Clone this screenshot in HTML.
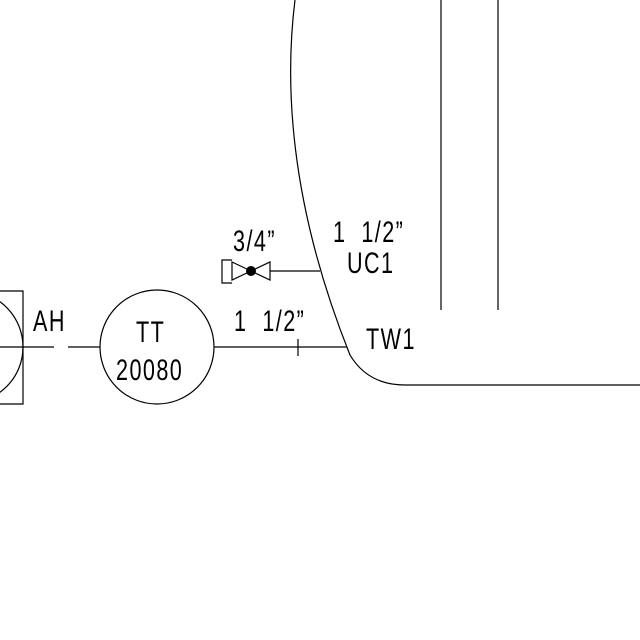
<!DOCTYPE html>
<html><head><meta charset="utf-8"><style>
html,body{margin:0;padding:0;background:#fff}
svg{display:block}
text{font-family:"Liberation Sans",sans-serif;fill:#000;font-size:30px;white-space:pre;letter-spacing:2px}
</style></head><body>
<svg width="640" height="640" viewBox="0 0 640 640">
<g stroke="#000" stroke-width="1.2" fill="none">
  <path d="M0,291 H23 V404 H0"/>
  <circle cx="-33" cy="347" r="56"/>
  <line x1="0" y1="347" x2="54" y2="347"/>
  <line x1="68" y1="347" x2="100" y2="347"/>
  <circle cx="157" cy="347" r="57"/>
  <line x1="214" y1="347" x2="347" y2="347"/>
  <line x1="298" y1="339" x2="298" y2="356"/>
  <line x1="270" y1="271" x2="320" y2="271"/>
  <path d="M232,262 L270,280 L270,262 L232,280 Z"/>
  <path d="M232,260 H222 V283 H232"/>
  <path d="M295,0 C285,80 288,200 350,355 C362,375 380,385 405,385 L640,385"/>
  <line x1="441" y1="0" x2="441" y2="310"/>
  <line x1="498" y1="0" x2="498" y2="310"/>
</g>
<circle cx="251" cy="271" r="5" fill="#000"/>
<g>
  <text transform="translate(33 331) scale(0.72 1)">AH</text>
  <text transform="translate(136 342) scale(0.72 1)">TT</text>
  <text transform="translate(116 380) scale(0.72 1)">20080</text>
  <text transform="translate(234 331) scale(0.72 1)">1  1/2”</text>
  <text transform="translate(233 251) scale(0.72 1)">3/4”</text>
  <text transform="translate(333 242) scale(0.72 1)">1  1/2”</text>
  <text transform="translate(347 273) scale(0.72 1)">UC1</text>
  <text transform="translate(366 349) scale(0.72 1)">TW1</text>
</g>
</svg>
</body></html>
